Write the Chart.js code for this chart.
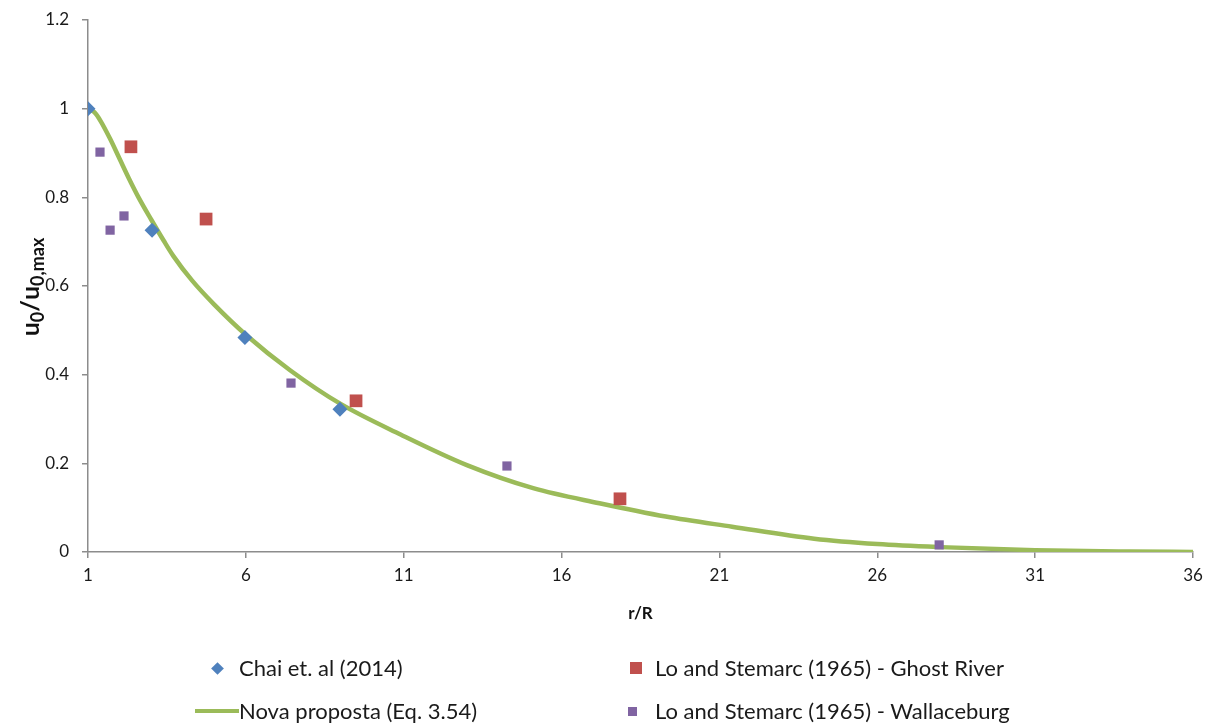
<!DOCTYPE html>
<html>
<head>
<meta charset="utf-8">
<script src="https://cdn.jsdelivr.net/npm/chart.js@4/dist/chart.umd.min.js"></script>
<style>
  html, body { margin: 0; padding: 0; background: #fff; }
  #wrap { position: relative; width: 1214px; height: 724px; }
  #chart { position: absolute; left: 0; top: 0; }
  .leg { position: absolute; font-family: Lato, "Liberation Sans", sans-serif; font-size: 22px; color: #1a1a1a; white-space: nowrap; line-height: 26px; }
  .mk { position: absolute; }
</style>
</head>
<body>
<div id="wrap">
  <canvas id="chart" width="1214" height="724"></canvas>
  <div id="legend"></div>
</div>
<script>
// r/R tick values and u0/u0,max tick values
const xTicks = [1, 6, 11, 16, 21, 26, 31, 36];
const yTicks = [0, 0.2, 0.4, 0.6, 0.8, 1, 1.2];

// Chai et. al (2014)
const chaiX = [1, 3.03, 5.97, 8.98];
const chaiY = [1.0, 0.726, 0.484, 0.322];

// Lo and Stemarc (1965) - Ghost River
const ghostX = [2.36, 4.74, 9.49, 17.85];
const ghostY = [0.914, 0.751, 0.341, 0.120];

// Lo and Stemarc (1965) - Wallaceburg
const wallX = [1.38, 1.70, 2.14, 7.43, 14.27, 27.96];
const wallY = [0.902, 0.726, 0.758, 0.381, 0.194, 0.016];

// Nova proposta (Eq. 3.54)
const novaX = [1, 1.2, 1.4, 1.7, 2, 2.3, 2.6, 3, 3.4, 3.7, 4.3, 5, 6, 7.4, 9, 10.9, 13, 15.1, 17.2, 19.3, 21.4, 24, 26, 28, 31, 34, 36];
const novaY = [1.0, 0.992, 0.972, 0.932, 0.887, 0.842, 0.80, 0.75, 0.702, 0.668, 0.612, 0.558, 0.49, 0.41, 0.334, 0.265, 0.196, 0.144, 0.11, 0.08, 0.057, 0.03, 0.018, 0.011, 0.004, 0.001, 0];

const pts = (xs, ys) => xs.map((x, i) => ({ x: x, y: ys[i] }));

const BLUE = '#4F81BD', RED = '#C0504D', PURPLE = '#8064A2', GREEN = '#9BBB59';
const FONT = 'Lato, "Liberation Sans", sans-serif';

// axis titles: y title carries subscripts, so both are drawn on the canvas
const axisTitlePlugin = {
  id: 'axisTitles',
  afterDraw(chart) {
    const ctx = chart.ctx;
    const area = chart.chartArea;
    ctx.save();
    ctx.fillStyle = '#111';
    // x title
    ctx.font = 'bold 17px ' + FONT;
    ctx.textAlign = 'center';
    ctx.textBaseline = 'middle';
    ctx.fillText('r/R', (area.left + area.right) / 2, 614);
    // y title
    const parts = [
      { t: 'u', sub: false }, { t: '0', sub: true }, { t: '/', sub: false },
      { t: 'u', sub: false }, { t: '0,max', sub: true }
    ];
    ctx.translate(39, (area.top + area.bottom) / 2 + 1);
    ctx.rotate(-Math.PI / 2);
    ctx.textAlign = 'left';
    ctx.textBaseline = 'alphabetic';
    const big = 'bold 25px ' + FONT, small = 'bold 18px ' + FONT;
    let total = 0;
    parts.forEach(p => { ctx.font = p.sub ? small : big; p.w = ctx.measureText(p.t).width; total += p.w; });
    let x = -total / 2;
    parts.forEach(p => {
      ctx.font = p.sub ? small : big;
      ctx.fillText(p.t, x, p.sub ? 5 : 0);
      x += p.w;
    });
    ctx.restore();
  }
};

const chart = new Chart(document.getElementById('chart'), {
  type: 'scatter',
  data: {
    datasets: [
      { label: 'Nova proposta (Eq. 3.54)', data: pts(novaX, novaY), showLine: true, borderColor: GREEN, borderWidth: 4.5,
        pointRadius: 0, cubicInterpolationMode: 'monotone', order: 3 },
      { label: 'Chai et. al (2014)', data: pts(chaiX, chaiY), pointStyle: 'rectRot', pointRadius: 7.5,
        backgroundColor: BLUE, borderColor: BLUE, borderWidth: 0, order: 1 },
      { label: 'Lo and Stemarc (1965) - Ghost River', data: pts(ghostX, ghostY), pointStyle: 'rect', pointRadius: 9,
        backgroundColor: RED, borderColor: RED, borderWidth: 0, order: 1 },
      { label: 'Lo and Stemarc (1965) - Wallaceburg', data: pts(wallX, wallY), pointStyle: 'rect', pointRadius: 6.5,
        backgroundColor: PURPLE, borderColor: PURPLE, borderWidth: 0, order: 1 }
    ]
  },
  options: {
    responsive: false,
    animation: false,
    layout: { padding: { top: 20, right: 21, left: 0, bottom: 0 } },
    plugins: { legend: { display: false }, tooltip: { enabled: false } },
    scales: {
      x: {
        type: 'linear', min: 1, max: 36,
        afterBuildTicks: s => { s.ticks = xTicks.map(v => ({ value: v })); },
        afterFit: s => { s.height = 172; s.paddingLeft = 0; s.paddingRight = 0; },
        border: { color: '#8c8c8c', width: 1.5 },
        grid: { drawOnChartArea: false, drawTicks: true, tickLength: 6, color: '#8c8c8c', lineWidth: 1.5 },
        ticks: { color: '#1a1a1a', font: { family: FONT, size: 17 }, padding: 7, maxRotation: 0 }
      },
      y: {
        type: 'linear', min: 0, max: 1.2,
        afterBuildTicks: s => { s.ticks = yTicks.map(v => ({ value: v })); },
        afterFit: s => { s.width = 88; s.paddingTop = 0; s.paddingBottom = 0; },
        border: { color: '#8c8c8c', width: 1.5 },
        grid: { drawOnChartArea: false, drawTicks: true, tickLength: 6, color: '#8c8c8c', lineWidth: 1.5 },
        ticks: { color: '#1a1a1a', font: { family: FONT, size: 17 }, padding: 13,
          callback: v => String(Math.round(v * 10) / 10) }
      }
    }
  },
  plugins: [axisTitlePlugin]
});

// two-column legend under the plot
const legendLayout = [
  { ds: 1, x: 239, y: 668, mark: 'diamond' },
  { ds: 2, x: 655, y: 668, mark: 'bigSquare' },
  { ds: 0, x: 239, y: 711, mark: 'line' },
  { ds: 3, x: 655, y: 711, mark: 'smallSquare' }
];
const legendEl = document.getElementById('legend');
legendLayout.forEach(item => {
  const ds = chart.data.datasets[item.ds];
  const color = ds.borderColor;
  const m = document.createElement('div');
  m.className = 'mk';
  if (item.mark === 'diamond') {
    Object.assign(m.style, { left: (item.x - 26) + 'px', top: (item.y - 4) + 'px', width: '9px', height: '9px',
      background: color, transform: 'rotate(45deg)' });
  } else if (item.mark === 'bigSquare') {
    Object.assign(m.style, { left: (item.x - 25) + 'px', top: (item.y - 6) + 'px', width: '12px', height: '12px', background: color });
  } else if (item.mark === 'smallSquare') {
    Object.assign(m.style, { left: (item.x - 27) + 'px', top: (item.y - 4) + 'px', width: '9px', height: '9px', background: color });
  } else {
    Object.assign(m.style, { left: (item.x - 44) + 'px', top: (item.y - 2) + 'px', width: '44px', height: '4px', background: color });
  }
  legendEl.appendChild(m);
  const t = document.createElement('div');
  t.className = 'leg';
  t.textContent = ds.label;
  t.style.left = item.x + 'px';
  t.style.top = (item.y - 13) + 'px';
  legendEl.appendChild(t);
});
</script>
</body>
</html>
